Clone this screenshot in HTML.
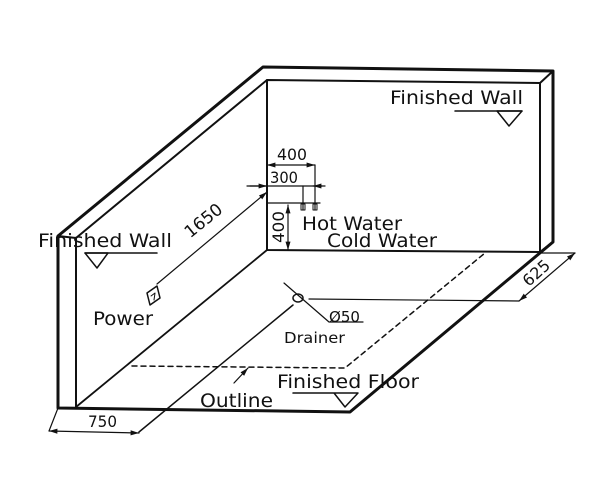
<!DOCTYPE html>
<html><head><meta charset="utf-8"><style>
html,body{margin:0;padding:0;background:#fff;}
svg{display:block;}
text{font-family:"DejaVu Sans","Liberation Sans",sans-serif;fill:#111;}
</style></head><body>
<svg width="600" height="484" viewBox="0 0 600 484" xmlns="http://www.w3.org/2000/svg">
<defs>
<marker id="a" viewBox="0 0 10 10" refX="10" refY="5" markerWidth="7" markerHeight="7" orient="auto-start-reverse"><path d="M0,2 L10,5 L0,8 z" fill="#111"/></marker>
</defs>
<g stroke="#111" fill="none" stroke-linecap="round" stroke-linejoin="round">
<path d="M58,408 L58,236 L263,67 L553,71 L553,242 L350,412 L58,408" stroke-width="3"/>
<path d="M76,408 L76,238 L267,80 L540,83 L540,252" stroke-width="2"/>
<path d="M267,80 L267,250 L540,252 L553,242" stroke-width="2"/>
<path d="M540,83 L553,71" stroke-width="2"/>
<path d="M58,236 L76,238" stroke-width="2"/>
<path d="M76,407 L267,250" stroke-width="1.8"/>
<path d="M139,432 L293,305" stroke-width="1.5"/>
<path d="M58,408 L49,431" stroke-width="1.2"/>
<path d="M49,431 L139,433" stroke-width="1.2" marker-start="url(#a)" marker-end="url(#a)"/>
<path d="M132,366 L345,368 L485,253" stroke-width="1.5" stroke-dasharray="5,4"/>
<path d="M234,383 L248,368" stroke-width="1.2" marker-end="url(#a)"/>
<ellipse cx="298" cy="298" rx="5" ry="4" stroke-width="1.5"/>
<path d="M284,283 L329,322 L363,322" stroke-width="1.2"/>
<path d="M309,299 L519,301" stroke-width="1.2"/>
<path d="M540,253 L575,253" stroke-width="1.2"/>
<path d="M519,301 L575,253" stroke-width="1.2" marker-start="url(#a)" marker-end="url(#a)"/>
<path d="M293,393 L358,393 L345,407 L334,393" stroke-width="1.5"/>
<path d="M85,253 L157,253" stroke-width="1.5"/>
<path d="M85,253 L108,253 L97,268 Z" stroke-width="1.5"/>
<path d="M455,111 L522,111" stroke-width="1.5"/>
<path d="M497,111 L522,111 L509,126 Z" stroke-width="1.5"/>
<path d="M147,293 L157,286 L160,298 L150,305 Z" stroke-width="1.5"/>
<path d="M151,296 L155,293 L154,300" stroke-width="1"/>
<path d="M157,284 L267,192" stroke-width="1.2" marker-end="url(#a)"/>
<path d="M267,165 L315,165" stroke-width="1.2" marker-start="url(#a)" marker-end="url(#a)"/>
<path d="M315,165 L315,190" stroke-width="1.2"/>
<path d="M247,186 L325,186" stroke-width="1.2"/>
<path d="M250,186 L267,186" stroke-width="1.2" marker-end="url(#a)"/>
<path d="M322,186 L313,186" stroke-width="1.2" marker-end="url(#a)"/>
<path d="M267,203 L320,203" stroke-width="1.2"/>
<path d="M288,205 L288,250" stroke-width="1.2" marker-start="url(#a)" marker-end="url(#a)"/>
<path d="M303,186 L303,210 M315,190 L315,210" stroke-width="1.2"/>
<rect x="301" y="204" width="4" height="6" stroke-width="1"/>
<rect x="313" y="204" width="4" height="6" stroke-width="1"/>
</g>
<text x="38" y="247" font-size="19" textLength="134" lengthAdjust="spacingAndGlyphs">Finished Wall</text>
<text x="390" y="104" font-size="19" textLength="133" lengthAdjust="spacingAndGlyphs">Finished Wall</text>
<text x="302" y="230" font-size="19" textLength="100" lengthAdjust="spacingAndGlyphs">Hot Water</text>
<text x="327" y="247" font-size="19" textLength="110" lengthAdjust="spacingAndGlyphs">Cold Water</text>
<text x="277" y="160" font-size="16" textLength="30" lengthAdjust="spacingAndGlyphs">400</text>
<text x="270" y="183" font-size="16" textLength="28" lengthAdjust="spacingAndGlyphs">300</text>
<text transform="translate(284,243) rotate(-90)" font-size="16" textLength="32" lengthAdjust="spacingAndGlyphs">400</text>
<text transform="translate(207,225) rotate(-39)" font-size="17" text-anchor="middle">1650</text>
<text x="93" y="325" font-size="19" textLength="60" lengthAdjust="spacingAndGlyphs">Power</text>
<text x="329" y="322" font-size="15" textLength="31" lengthAdjust="spacingAndGlyphs">Ø50</text>
<text x="284" y="343" font-size="15" textLength="61" lengthAdjust="spacingAndGlyphs">Drainer</text>
<text x="277" y="388" font-size="19" textLength="142" lengthAdjust="spacingAndGlyphs">Finished Floor</text>
<text x="200" y="407" font-size="19" textLength="73" lengthAdjust="spacingAndGlyphs">Outline</text>
<text x="88" y="427" font-size="16" textLength="29" lengthAdjust="spacingAndGlyphs">750</text>
<text transform="translate(540,277) rotate(-42)" font-size="16" text-anchor="middle">625</text>
</svg>
</body></html>
